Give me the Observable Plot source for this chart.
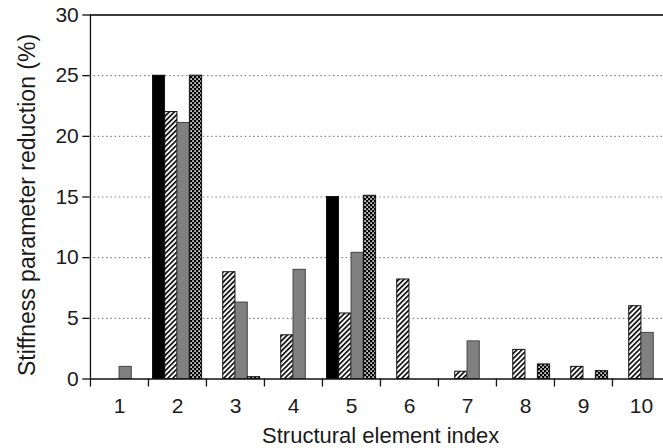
<!DOCTYPE html>
<html>
<head>
<meta charset="utf-8">
<script src="https://cdn.jsdelivr.net/npm/d3@7"></script>
<script src="https://cdn.jsdelivr.net/npm/@observablehq/plot@0.6"></script>
<style>
  html, body { margin: 0; padding: 0; background: #fff; overflow: hidden; }
  #chart svg { display: block; }
</style>
</head>
<body>
<div id="chart"></div>
<script>
// Structural element indices (x categories)
const elements = [1, 2, 3, 4, 5, 6, 7, 8, 9, 10];

// Stiffness parameter reduction (%) per element, one array per damage case
const case1 = [0, 25, 0, 0, 15, 0, 0, 0, 0, 0];
const case2 = [0, 22, 8.8, 3.6, 5.4, 8.2, 0.6, 2.4, 1.0, 6.0];
const case3 = [1.0, 21.1, 6.3, 9.0, 10.4, 0, 3.1, 0, 0, 3.8];
const case4 = [0, 25, 0.15, 0, 15.1, 0, 0, 1.2, 0.65, 0];

const yTicks = [0, 5, 10, 15, 20, 25, 30];

// Layout
const W = 663, H = 448;
const left = 89.3, xEnd = 670.3;          // last group runs past the right edge
const step = (xEnd - left) / elements.length;
const groupPad = 4.4;
const barW = (step - 2 * groupPad) / 4;

const seriesStyles = [
  {values: case1, fill: "#000000", stroke: "#000000", strokeWidth: 0.8},
  {values: case2, fill: "url(#hatch)", stroke: "#111111", strokeWidth: 1},
  {values: case3, fill: "#808080", stroke: "#444444", strokeWidth: 1},
  {values: case4, fill: "url(#checks)", stroke: "#111111", strokeWidth: 1}
];

const barMarks = seriesStyles.map((s, k) => {
  const rows = elements
    .map((e, i) => ({element: e, value: s.values[i]}))
    .filter(d => d.value > 0);
  return Plot.barY(rows, {
    x: "element",
    y: "value",
    fill: s.fill,
    stroke: s.stroke,
    strokeWidth: s.strokeWidth,
    insetLeft: groupPad + k * barW,
    insetRight: step - groupPad - (k + 1) * barW
  });
});

const chart = Plot.plot({
  width: W,
  height: H,
  marginLeft: left,
  marginRight: 0,
  marginTop: 14.5,
  marginBottom: 69.5,
  style: {
    fontFamily: "'Liberation Sans', Arial, sans-serif",
    fontSize: "21px",
    color: "#1a1a1a",
    background: "#fff",
    overflow: "visible"
  },
  x: {domain: elements, range: [left, xEnd], padding: 0, axis: null},
  y: {domain: [0, 30], axis: null},
  marks: [
    // dotted horizontal gridlines
    Plot.ruleY(yTicks.filter(v => v > 0 && v < 30), {
      stroke: "#8c8c8c",
      strokeWidth: 1.2,
      strokeDasharray: "1.6,2.6"
    }),
    ...barMarks,
    // top border at 30
    Plot.ruleY([30], {stroke: "#3a3a3a", strokeWidth: 2}),
    // x axis baseline
    Plot.ruleY([0], {stroke: "#111", strokeWidth: 1.3}),
    // y axis line
    Plot.ruleX([elements[0]], {dx: -step / 2, stroke: "#111", strokeWidth: 1.3}),
    // y axis ticks and labels
    Plot.axisY(yTicks, {
      tickSize: 7,
      tickPadding: 4,
      stroke: "#111",
      strokeWidth: 1.3,
      fontSize: 21,
      label: null
    }),
    // x ticks between groups
    Plot.axisX(elements, {
      tickSize: 8,
      dx: -step / 2,
      tickFormat: () => "",
      stroke: "#111",
      strokeWidth: 1.3,
      label: null
    }),
    // x group labels
    Plot.axisX(elements, {
      tickSize: 0,
      tickPadding: 19,
      fontSize: 21,
      label: null
    }),
    Plot.text(["Structural element index"], {
      frameAnchor: "bottom",
      textAnchor: "middle",
      lineAnchor: "middle",
      dy: 57,
      dx: 4,
      fontSize: 22,
      fill: "#1a1a1a"
    }),
    Plot.text(["Stiffness parameter reduction (%)"], {
      frameAnchor: "left",
      textAnchor: "middle",
      lineAnchor: "middle",
      rotate: -90,
      dx: -62,
      dy: 8,
      fontSize: 23,
      fill: "#1a1a1a"
    })
  ]
});

// Fill patterns for the hatched and checkered bars
const defs = d3.select(chart).insert("defs", ":first-child");
const hatch = defs.append("pattern")
  .attr("id", "hatch")
  .attr("patternUnits", "userSpaceOnUse")
  .attr("width", 3.6)
  .attr("height", 3.6)
  .attr("patternTransform", "rotate(45)");
hatch.append("rect").attr("width", 3.6).attr("height", 3.6).attr("fill", "#fff");
hatch.append("rect").attr("width", 1.6).attr("height", 3.6).attr("fill", "#000");

const checks = defs.append("pattern")
  .attr("id", "checks")
  .attr("patternUnits", "userSpaceOnUse")
  .attr("width", 4)
  .attr("height", 4);
checks.append("rect").attr("width", 4).attr("height", 4).attr("fill", "#000");
checks.append("rect").attr("x", 0.3).attr("y", 0.3).attr("width", 1.6).attr("height", 1.6).attr("fill", "#fff");
checks.append("rect").attr("x", 2.3).attr("y", 2.3).attr("width", 1.6).attr("height", 1.6).attr("fill", "#fff");

document.getElementById("chart").appendChild(chart);
</script>
</body>
</html>
